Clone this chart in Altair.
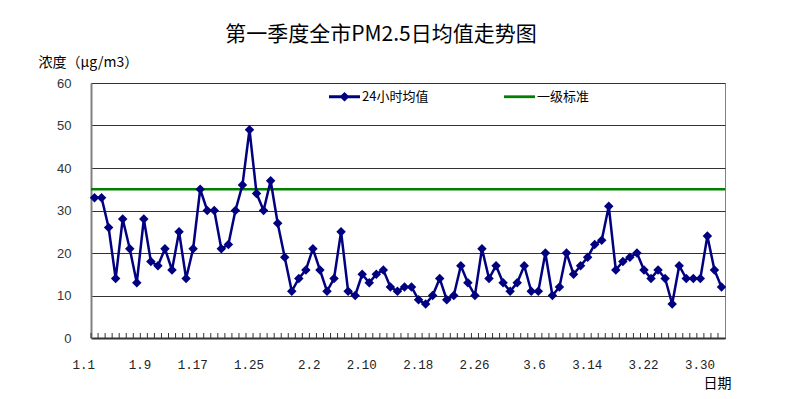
import altair as alt
import pandas as pd

# categories: every day of Q1 (Jan 31, Feb 28, Mar 31)
month_lengths = [(1, 31), (2, 28), (3, 31)]
dates = [f"{m}.{d}" for m, n in month_lengths for d in range(1, n + 1)]

x_tick_labels = ["1.1", "1.9", "1.17", "1.25", "2.2", "2.10", "2.18", "2.26",
                 "3.6", "3.14", "3.22", "3.30"]
y_tick_values = [0, 10, 20, 30, 40, 50, 60]

pm25_jan = [33, 33, 26, 14, 28, 21, 13, 28, 18, 17, 21, 16, 25, 14, 21, 35,
            30, 30, 21, 22, 30, 36, 49, 34, 30, 37, 27, 19, 11, 14, 16]
pm25_feb = [21, 16, 11, 14, 25, 11, 10, 15, 13, 15, 16, 12, 11, 12, 12, 9,
            8, 10, 14, 9, 10, 17, 13, 10, 21, 14, 17, 13]
pm25_mar = [11, 13, 17, 11, 11, 20, 10, 12, 20, 15, 17, 19, 22, 23, 31, 16,
            18, 19, 20, 16, 14, 16, 14, 8, 17, 14, 14, 14, 24, 16, 12]
pm25 = pm25_jan + pm25_feb + pm25_mar

standard_value = [35]

series_names = ["24小时均值", "一级标准"]
series_colors = ["#000080", "#008000"]

title_text = "第一季度全市PM2.5日均值走势图"
y_title = "浓度（μg/m3）"
x_title = "日期"

CJK = "Noto Sans CJK SC"
NAVY = "#000080"
GREEN = "#008000"

df = pd.DataFrame({"date": dates, "value": pm25})
df_std = pd.DataFrame({"y": standard_value})
df_leg = pd.DataFrame({"series": series_names})

x_scale = alt.Scale(domain=dates, type="point", padding=0.5)
y_scale = alt.Scale(domain=[0, 60], nice=False)

x_enc = alt.X(
    "date:O", sort=dates, scale=x_scale,
    axis=alt.Axis(
        values=x_tick_labels, labelAngle=0, labelFont="Liberation Mono",
        labelFontSize=12.5, labelColor="#222222", labelPadding=26, tickSize=0,
        domainColor="#333333", domainWidth=2, grid=False,
        title=x_title, titleX=626, titleY=45, titleAlign="center",
        titleBaseline="middle", titleFont=CJK, titleFontSize=14,
        titleFontWeight="normal", titleColor="black",
    ),
)
y_enc = alt.Y(
    "value:Q", scale=y_scale,
    axis=alt.Axis(
        values=y_tick_values, labelFont="Liberation Sans", labelFontSize=13,
        labelColor="#333333", labelPadding=20, tickSize=0,
        domainColor="#808080", domainWidth=2,
        grid=True, gridColor="#333333", gridWidth=1,
        title=y_title, titleAngle=0, titleAlign="left", titleX=-53, titleY=-21,
        titleBaseline="middle", titleFont=CJK, titleFontSize=14,
        titleFontWeight="normal", titleColor="black",
    ),
)

base = alt.Chart(df)

line = base.mark_line(color=NAVY, strokeWidth=2.5).encode(x=x_enc, y=y_enc)
points = base.mark_point(shape="diamond", filled=True, size=90, color=NAVY,
                         opacity=1).encode(x=x_enc, y=y_enc)

minor_ticks = base.mark_rule(color="#333333", strokeWidth=1).encode(
    x=alt.X("date:O", sort=dates, scale=x_scale),
    xOffset=alt.value(-3.5),
    y=alt.value(255),
    y2=alt.value(250),
)

std_rule = alt.Chart(df_std).mark_rule(color=GREEN, strokeWidth=2.5).encode(
    y=alt.Y("y:Q", scale=y_scale)
)

path_line_marker = ("M-1,-0.09L-0.22,-0.09L0,-0.31L0.22,-0.09L1,-0.09L1,0.09"
                    "L0.22,0.09L0,0.31L-0.22,0.09L-1,0.09Z")
path_line = "M-1,-0.09L1,-0.09L1,0.09L-1,0.09Z"

leg = alt.Legend(
    title=None, orient="none", legendX=238, legendY=-2, direction="horizontal",
    columns=2, columnPadding=75, symbolSize=961, symbolStrokeWidth=0,
    labelFont=CJK, labelFontSize=13, labelColor="black", labelOffset=2,
    padding=0, labelLimit=200,
)

legend_layer = alt.Chart(df_leg).transform_filter("false").mark_point(
    filled=True, opacity=1
).encode(
    color=alt.Color("series:N", scale=alt.Scale(domain=series_names, range=series_colors), legend=leg),
    shape=alt.Shape("series:N", scale=alt.Scale(domain=series_names, range=[path_line_marker, path_line]), legend=leg),
)

chart = alt.layer(std_rule, minor_ticks, line, points, legend_layer).properties(
    width=634,
    height=255,
    autosize=alt.AutoSizeParams(type="none"),
    padding={"left": 83, "top": 75, "right": 50, "bottom": 60},
    title=alt.Title(title_text, fontSize=21, font=CJK, fontWeight="normal",
                    anchor="middle", frame="group", dx=-27, offset=10,
                    color="black"),
).configure_view(fill="#C0C0C0", stroke="#808080", strokeWidth=1)

chart.save("out.html", embed_options={"renderer": "svg", "actions": False})
